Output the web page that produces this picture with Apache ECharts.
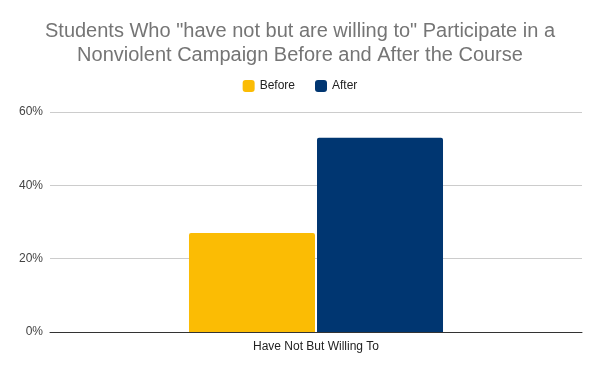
<!DOCTYPE html>
<html><head><meta charset="utf-8">
<script src="https://cdn.jsdelivr.net/npm/echarts@6/dist/echarts.min.js"></script>
<style>html,body{margin:0;padding:0;background:#fff}#c{width:600px;height:371px}</style>
</head><body><div id="c"></div>
<script>
const categories = ["Have Not But Willing To"];
const beforeValues = [27];
const afterValues = [53];
const yTicks = [0, 20, 40, 60];

const chart = echarts.init(document.getElementById('c'), null, {renderer: 'canvas'});
chart.setOption({
  animation: false,
  title: {
    text: 'Students Who "have not but are willing to" Participate in a\nNonviolent Campaign Before and After the Course',
    left: 'center', top: 15,
    textStyle: {fontFamily: 'Liberation Sans, Arial', fontSize: 20, fontWeight: 'normal', color: '#757575', lineHeight: 23.5}
  },
  legend: {
    top: 75, left: 'center', itemWidth: 12, itemHeight: 12, itemGap: 20,
    icon: 'roundRect',
    textStyle: {fontFamily: 'Liberation Sans, Arial', fontSize: 12, color: '#222'},
    data: ['Before', 'After']
  },
  grid: {left: 50, right: 18, top: 112, bottom: 39},
  xAxis: {
    type: 'category', data: categories,
    axisLine: {lineStyle: {color: '#333', width: 1}},
    axisTick: {show: false},
    axisLabel: {fontFamily: 'Liberation Sans, Arial', fontSize: 12, color: '#222', margin: 9}
  },
  yAxis: {
    type: 'value', min: yTicks[0], max: yTicks[yTicks.length-1], interval: 20,
    axisLine: {show: false}, axisTick: {show: false},
    splitLine: {lineStyle: {color: '#ccc'}},
    axisLabel: {formatter: '{value}%', fontFamily: 'Liberation Sans, Arial', fontSize: 12, color: '#444', margin: 7, padding: [6, 0, 0, 0]}
  },
  series: [
    {name: 'Before', type: 'bar', data: beforeValues, barWidth: 126, barGap: '1.6%',
     itemStyle: {color: '#fbbc04', borderRadius: [2,2,0,0]}},
    {name: 'After', type: 'bar', data: afterValues, barWidth: 126,
     itemStyle: {color: '#003671', borderRadius: [2,2,0,0]}}
  ]
});
</script></body></html>
